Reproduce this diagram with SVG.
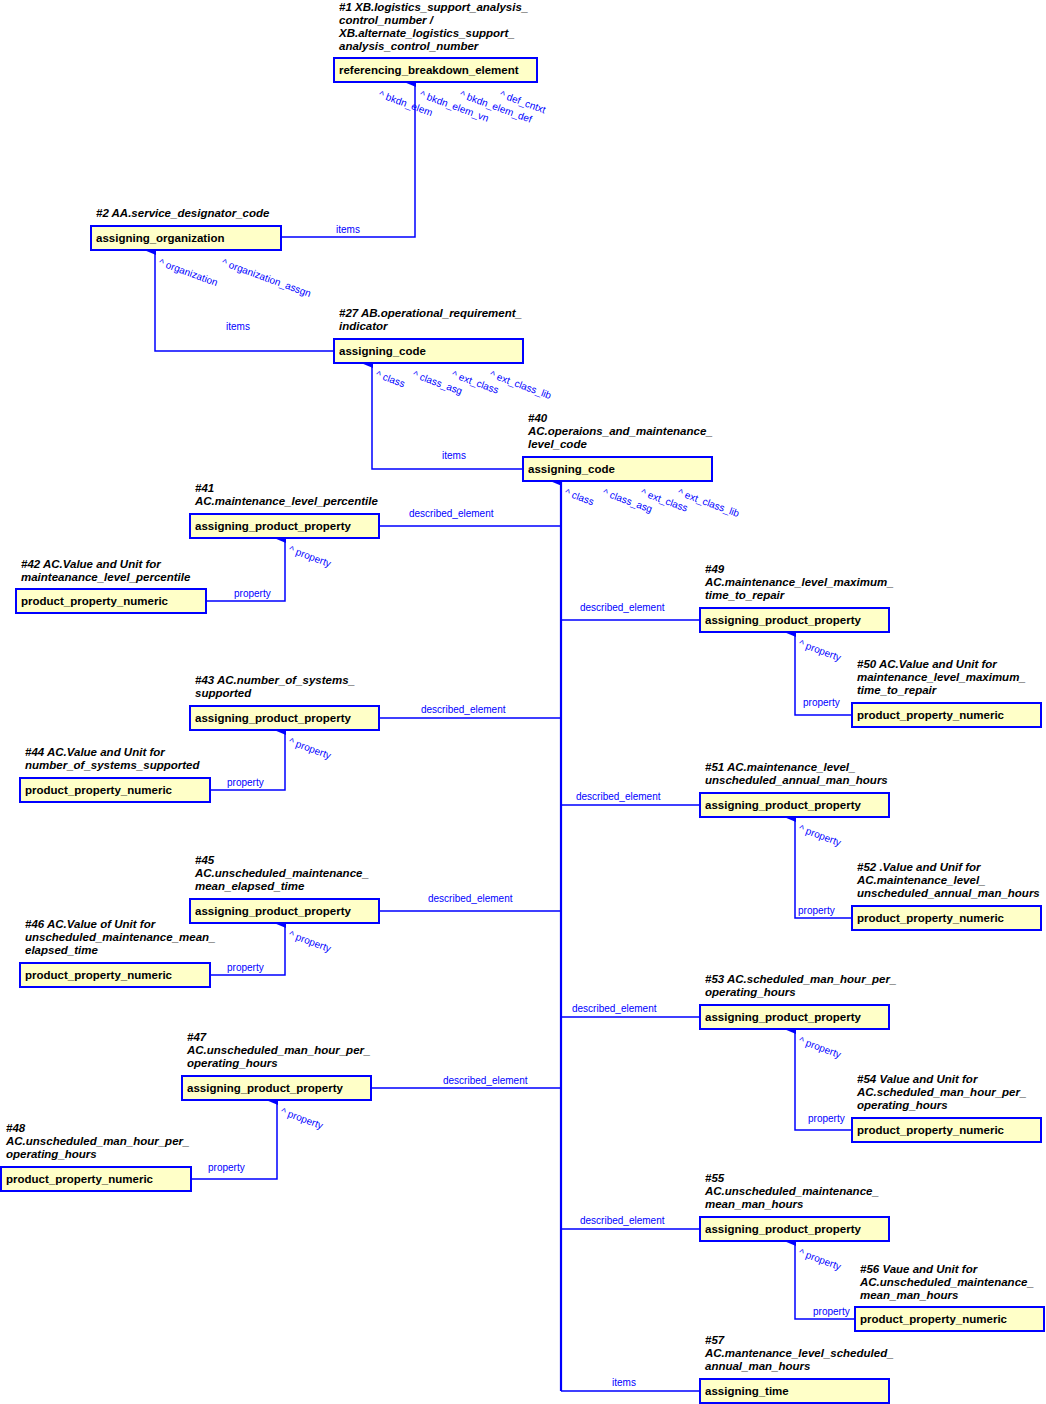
<svg xmlns="http://www.w3.org/2000/svg" width="1046" height="1404" viewBox="0 0 1046 1404">
<style>
.n rect{fill:#ffffc8;stroke:#0000ff;stroke-width:2}
.n text{font-family:"Liberation Sans",Arial,sans-serif;font-weight:bold;font-size:11.5px;fill:#000}
.a{font-family:"Liberation Sans",Arial,sans-serif;font-weight:bold;font-style:italic;font-size:10px;fill:#000}
.c path{fill:none;stroke:#0000ff;stroke-width:1.5}
.c path.t{stroke-width:2.2}
.l{font-family:"Liberation Sans",Arial,sans-serif;font-size:10px;fill:#0000ff}
</style>
<defs><marker id="ar" markerWidth="10" markerHeight="12" refX="5" refY="11" orient="auto-start-reverse" markerUnits="userSpaceOnUse" viewBox="0 0 10 12"><path d="M0,12 L5,0 L10,12 Z" fill="#0000ff"/></marker></defs>
<g class="c">
<path d="M281,237 H415 V82" marker-end="url(#ar)"/>
<path d="M334,351 H155 V250" marker-end="url(#ar)"/>
<path d="M523,469 H372 V363" marker-end="url(#ar)"/>
<path class="t" d="M561,1391 V481" marker-end="url(#ar)"/>
<path d="M379,526 H561 M561,620 H700 M379,718 H561 M561,805 H700 M379,911 H561 M561,1017 H700 M371,1088 H561 M561,1229 H700 M561,1391 H700"/>
<path d="M206,601 H285 V538" marker-end="url(#ar)"/>
<path d="M210,790 H285 V730" marker-end="url(#ar)"/>
<path d="M210,975 H285 V923" marker-end="url(#ar)"/>
<path d="M191,1179 H277 V1100" marker-end="url(#ar)"/>
<path d="M852,715 H795 V632" marker-end="url(#ar)"/>
<path d="M852,918 H795 V817" marker-end="url(#ar)"/>
<path d="M852,1130 H795 V1029" marker-end="url(#ar)"/>
<path d="M855,1319 H795 V1241" marker-end="url(#ar)"/>
</g>
<g>
<text class="l" x="336" y="233">items</text>
<text class="l" x="226" y="330">items</text>
<text class="l" x="442" y="459">items</text>
<text class="l" x="612" y="1386">items</text>
<text class="l" x="409" y="517">described_element</text>
<text class="l" x="580" y="611">described_element</text>
<text class="l" x="421" y="713">described_element</text>
<text class="l" x="576" y="800">described_element</text>
<text class="l" x="428" y="902">described_element</text>
<text class="l" x="572" y="1012">described_element</text>
<text class="l" x="443" y="1084">described_element</text>
<text class="l" x="580" y="1224">described_element</text>
<text class="l" x="234" y="597">property</text>
<text class="l" x="227" y="786">property</text>
<text class="l" x="227" y="971">property</text>
<text class="l" x="208" y="1171">property</text>
<text class="l" x="803" y="706">property</text>
<text class="l" x="798" y="914">property</text>
<text class="l" x="808" y="1122">property</text>
<text class="l" x="813" y="1315">property</text>
<text class="l" transform="translate(378,97) rotate(20)">^ bkdn_elem</text>
<text class="l" transform="translate(419,97) rotate(20)">^ bkdn_elem_vn</text>
<text class="l" transform="translate(459,97) rotate(20)">^ bkdn_elem_def</text>
<text class="l" transform="translate(499,97) rotate(20)">^ def_cntxt</text>
<text class="l" transform="translate(158,265) rotate(20)">^ organization</text>
<text class="l" transform="translate(221,265) rotate(20)">^ organization_assgn</text>
<text class="l" transform="translate(375,377) rotate(20)">^ class</text>
<text class="l" transform="translate(412,377) rotate(20)">^ class_asg</text>
<text class="l" transform="translate(451,377) rotate(20)">^ ext_class</text>
<text class="l" transform="translate(489,377) rotate(20)">^ ext_class_lib</text>
<text class="l" transform="translate(564,495) rotate(20)">^ class</text>
<text class="l" transform="translate(602,495) rotate(20)">^ class_asg</text>
<text class="l" transform="translate(640,495) rotate(20)">^ ext_class</text>
<text class="l" transform="translate(677,495) rotate(20)">^ ext_class_lib</text>
<text class="l" transform="translate(288,552) rotate(20)">^ property</text>
<text class="l" transform="translate(288,744) rotate(20)">^ property</text>
<text class="l" transform="translate(288,937) rotate(20)">^ property</text>
<text class="l" transform="translate(280,1114) rotate(20)">^ property</text>
<text class="l" transform="translate(798,646) rotate(20)">^ property</text>
<text class="l" transform="translate(798,831) rotate(20)">^ property</text>
<text class="l" transform="translate(798,1043) rotate(20)">^ property</text>
<text class="l" transform="translate(798,1255) rotate(20)">^ property</text>
</g>
<g id="n1" class="n"><text class="a" x="339" y="11">#1 XB.logistics_support_analysis_</text><text class="a" x="339" y="24">control_number /</text><text class="a" x="339" y="37">XB.alternate_logistics_support_</text><text class="a" x="339" y="50">analysis_control_number</text><rect x="334" y="58" width="203" height="24"/><text x="339" y="74">referencing_breakdown_element</text></g>
<g id="n2" class="n"><text class="a" x="96" y="217">#2 AA.service_designator_code</text><rect x="91" y="226" width="190" height="24"/><text x="96" y="242">assigning_organization</text></g>
<g id="n27" class="n"><text class="a" x="339" y="317">#27 AB.operational_requirement_</text><text class="a" x="339" y="330">indicator</text><rect x="334" y="339" width="189" height="24"/><text x="339" y="355">assigning_code</text></g>
<g id="n40" class="n"><text class="a" x="528" y="422">#40</text><text class="a" x="528" y="435">AC.operaions_and_maintenance_</text><text class="a" x="528" y="448">level_code</text><rect x="523" y="457" width="189" height="24"/><text x="528" y="473">assigning_code</text></g>
<g id="n41" class="n"><text class="a" x="195" y="492">#41</text><text class="a" x="195" y="505">AC.maintenance_level_percentile</text><rect x="190" y="514" width="189" height="24"/><text x="195" y="530">assigning_product_property</text></g>
<g id="n42" class="n"><text class="a" x="21" y="568">#42 AC.Value and Unit for</text><text class="a" x="21" y="581">mainteanance_level_percentile</text><rect x="16" y="589" width="190" height="24"/><text x="21" y="605">product_property_numeric</text></g>
<g id="n49" class="n"><text class="a" x="705" y="573">#49</text><text class="a" x="705" y="586">AC.maintenance_level_maximum_</text><text class="a" x="705" y="599">time_to_repair</text><rect x="700" y="608" width="189" height="24"/><text x="705" y="624">assigning_product_property</text></g>
<g id="n50" class="n"><text class="a" x="857" y="668">#50 AC.Value and Unit for</text><text class="a" x="857" y="681">maintenance_level_maximum_</text><text class="a" x="857" y="694">time_to_repair</text><rect x="852" y="703" width="189" height="24"/><text x="857" y="719">product_property_numeric</text></g>
<g id="n43" class="n"><text class="a" x="195" y="684">#43 AC.number_of_systems_</text><text class="a" x="195" y="697">supported</text><rect x="190" y="706" width="189" height="24"/><text x="195" y="722">assigning_product_property</text></g>
<g id="n44" class="n"><text class="a" x="25" y="756">#44 AC.Value and Unit for</text><text class="a" x="25" y="769">number_of_systems_supported</text><rect x="20" y="778" width="190" height="24"/><text x="25" y="794">product_property_numeric</text></g>
<g id="n51" class="n"><text class="a" x="705" y="771">#51 AC.maintenance_level_</text><text class="a" x="705" y="784">unscheduled_annual_man_hours</text><rect x="700" y="793" width="189" height="24"/><text x="705" y="809">assigning_product_property</text></g>
<g id="n52" class="n"><text class="a" x="857" y="871">#52 .Value and Unif for</text><text class="a" x="857" y="884">AC.maintenance_level_</text><text class="a" x="857" y="897">unscheduled_annual_man_hours</text><rect x="852" y="906" width="189" height="24"/><text x="857" y="922">product_property_numeric</text></g>
<g id="n45" class="n"><text class="a" x="195" y="864">#45</text><text class="a" x="195" y="877">AC.unscheduled_maintenance_</text><text class="a" x="195" y="890">mean_elapsed_time</text><rect x="190" y="899" width="189" height="24"/><text x="195" y="915">assigning_product_property</text></g>
<g id="n46" class="n"><text class="a" x="25" y="928">#46 AC.Value of Unit for</text><text class="a" x="25" y="941">unscheduled_maintenance_mean_</text><text class="a" x="25" y="954">elapsed_time</text><rect x="20" y="963" width="190" height="24"/><text x="25" y="979">product_property_numeric</text></g>
<g id="n53" class="n"><text class="a" x="705" y="983">#53 AC.scheduled_man_hour_per_</text><text class="a" x="705" y="996">operating_hours</text><rect x="700" y="1005" width="189" height="24"/><text x="705" y="1021">assigning_product_property</text></g>
<g id="n54" class="n"><text class="a" x="857" y="1083">#54 Value and Unit for</text><text class="a" x="857" y="1096">AC.scheduled_man_hour_per_</text><text class="a" x="857" y="1109">operating_hours</text><rect x="852" y="1118" width="189" height="24"/><text x="857" y="1134">product_property_numeric</text></g>
<g id="n47" class="n"><text class="a" x="187" y="1041">#47</text><text class="a" x="187" y="1054">AC.unscheduled_man_hour_per_</text><text class="a" x="187" y="1067">operating_hours</text><rect x="182" y="1076" width="189" height="24"/><text x="187" y="1092">assigning_product_property</text></g>
<g id="n48" class="n"><text class="a" x="6" y="1132">#48</text><text class="a" x="6" y="1145">AC.unscheduled_man_hour_per_</text><text class="a" x="6" y="1158">operating_hours</text><rect x="1" y="1167" width="190" height="24"/><text x="6" y="1183">product_property_numeric</text></g>
<g id="n55" class="n"><text class="a" x="705" y="1182">#55</text><text class="a" x="705" y="1195">AC.unscheduled_maintenance_</text><text class="a" x="705" y="1208">mean_man_hours</text><rect x="700" y="1217" width="189" height="24"/><text x="705" y="1233">assigning_product_property</text></g>
<g id="n56" class="n"><text class="a" x="860" y="1273">#56 Vaue and Unit for</text><text class="a" x="860" y="1286">AC.unscheduled_maintenance_</text><text class="a" x="860" y="1299">mean_man_hours</text><rect x="855" y="1307" width="189" height="24"/><text x="860" y="1323">product_property_numeric</text></g>
<g id="n57" class="n"><text class="a" x="705" y="1344">#57</text><text class="a" x="705" y="1357">AC.mantenance_level_scheduled_</text><text class="a" x="705" y="1370">annual_man_hours</text><rect x="700" y="1379" width="189" height="24"/><text x="705" y="1395">assigning_time</text></g>
</svg>
